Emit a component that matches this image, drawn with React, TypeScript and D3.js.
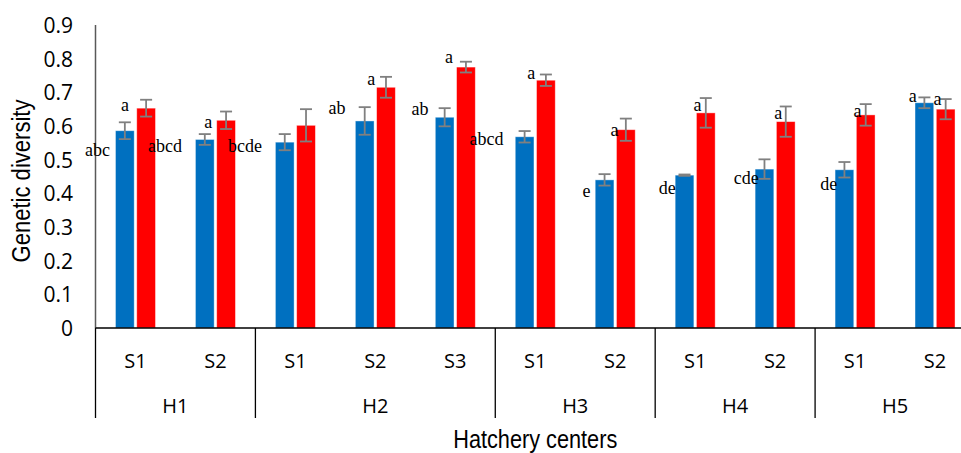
import React from "react";
import * as d3 from "d3";

const hatcheries = ["H1", "H2", "H3", "H4", "H5"];
const sitesPerHatchery = [2, 3, 2, 2, 2];
const categories = ["H1-S1", "H1-S2", "H2-S1", "H2-S2", "H2-S3", "H3-S1", "H3-S2", "H4-S1", "H4-S2", "H5-S1", "H5-S2"];
const siteLabels = ["S1", "S2", "S1", "S2", "S3", "S1", "S2", "S1", "S2", "S1", "S2"];
const series = ["blue", "red"];
const blueValues = [0.586, 0.56, 0.552, 0.615, 0.626, 0.568, 0.44, 0.454, 0.472, 0.47, 0.669];
const blueErrors = [0.025, 0.016, 0.024, 0.041, 0.027, 0.017, 0.017, 0.002, 0.029, 0.023, 0.016];
const redValues = [0.653, 0.617, 0.602, 0.715, 0.775, 0.736, 0.589, 0.639, 0.613, 0.633, 0.65];
const redErrors = [0.025, 0.026, 0.048, 0.031, 0.016, 0.017, 0.033, 0.044, 0.045, 0.032, 0.03];
const yTicks = [0, 0.1, 0.2, 0.3, 0.4, 0.5, 0.6, 0.7, 0.8, 0.9];

const letters = ["abc", "a", "abcd", "a", "bcde", "ab", "a", "ab", "a", "abcd", "a", "e", "a", "de", "a", "cde", "a", "de", "a", "a", "a"];
const letterCategory = [0, 0, 0, 1, 1, 3, 3, 4, 4, 4, 5, 6, 6, 7, 7, 8, 8, 9, 9, 10, 10];
const letterValue = [0.529, 0.662, 0.541, 0.612, 0.541, 0.653, 0.74, 0.65, 0.805, 0.561, 0.757, 0.407, 0.588, 0.416, 0.662, 0.446, 0.639, 0.428, 0.644, 0.689, 0.68];
// horizontal offset of each letter from its category centre, as a fraction of the category width
const letterOffset = [-0.475, -0.13, 0.37, -0.09, 0.37, -0.48, -0.05, -0.44, -0.08, 0.39, -0.05, -0.36, -0.01, -0.35, 0.03, -0.36, 0.04, -0.33, 0.03, -0.28, 0.03];

const W = 961;
const H = 453;
const left = 95.5;
const right = 975;
const top = 25;
const bottom = 328;

const colors: Record<string, string> = { blue: "#0070C0", red: "#FF0000" };
const sansTitle = "'Liberation Sans', Arial, sans-serif";
const sans = "'Open Sans', 'Liberation Sans', Arial, sans-serif";

export default function App() {
  const x = d3.scaleBand<string>().domain(categories).range([left, right]).paddingInner(0).paddingOuter(0);
  const bw = x.bandwidth();
  const x1 = d3.scaleBand<string>().domain(series).range([-20, 20]).paddingInner(0.12);
  const y = d3.scaleLinear().domain([0, 0.9]).range([bottom, top]);

  const center = (i: number) => (x(categories[i]) as number) + bw / 2;

  const boundaries: number[] = [0];
  sitesPerHatchery.forEach((n, i) => boundaries.push(boundaries[i] + n));

  const bars: any[] = [];
  categories.forEach((c, i) => {
    series.forEach((s) => {
      const v = s === "blue" ? blueValues[i] : redValues[i];
      const e = s === "blue" ? blueErrors[i] : redErrors[i];
      bars.push({ c, i, s, v, e });
    });
  });

  return (
    <svg width={W} height={H} style={{ position: "absolute", left: 0, top: 0, background: "#fff" }}>
      {/* y axis */}
      <line x1={left} x2={left} y1={y(0.9)} y2={bottom} stroke="#595959" strokeWidth={1.5} />
      {yTicks.map((t) => (
        <text key={t} x={73} y={y(t)} textAnchor="end" dominantBaseline="central" fontFamily={sans} fontSize={21} fill="#000">
          {d3.format("~g")(t)}
        </text>
      ))}
      <text
        transform={`translate(21, 181) rotate(-90)`}
        textAnchor="middle"
        dominantBaseline="central"
        fontFamily={sansTitle}
        fontSize={26}
        textLength={163}
        lengthAdjust="spacingAndGlyphs"
        fill="#000"
      >
        Genetic diversity
      </text>

      {/* bars */}
      {bars.map((b) => {
        const bx = center(b.i) + (x1(b.s) as number);
        const w = x1.bandwidth();
        const cx = bx + w / 2;
        return (
          <g key={b.c + b.s}>
            <rect x={bx} y={y(b.v)} width={w} height={bottom - y(b.v)} fill={colors[b.s]} stroke="#ffffff" strokeOpacity={0.5} strokeWidth={0.8} />
            <line x1={cx} x2={cx} y1={y(b.v + b.e)} y2={y(b.v - b.e)} stroke="#808080" strokeWidth={1.8} />
            <line x1={cx - 6} x2={cx + 6} y1={y(b.v + b.e)} y2={y(b.v + b.e)} stroke="#808080" strokeWidth={1.8} />
            <line x1={cx - 6} x2={cx + 6} y1={y(b.v - b.e)} y2={y(b.v - b.e)} stroke="#808080" strokeWidth={1.8} />
          </g>
        );
      })}

      {/* significance letters */}
      {letters.map((l, k) => (
        <text
          key={k}
          x={center(letterCategory[k]) + letterOffset[k] * bw}
          y={y(letterValue[k])}
          textAnchor="middle"
          dominantBaseline="central"
          fontFamily="'Liberation Serif', 'Times New Roman', serif"
          fontSize={18}
          fill="#000"
        >
          {l}
        </text>
      ))}

      {/* x axis */}
      <line x1={left} x2={W} y1={bottom} y2={bottom} stroke="#000" strokeWidth={1.5} />
      {boundaries.map((b, k) => {
        const bxp = b < categories.length ? (x(categories[b]) as number) : right;
        return <line key={k} x1={bxp} x2={bxp} y1={bottom} y2={418} stroke="#000" strokeWidth={1.3} />;
      })}
      {siteLabels.map((s, i) => (
        <text key={i} x={center(i)} y={360} textAnchor="middle" dominantBaseline="central" fontFamily={sans} fontSize={20} fill="#000">
          {s}
        </text>
      ))}
      {hatcheries.map((h, k) => {
        const a = x(categories[boundaries[k]]) as number;
        const endIdx = boundaries[k + 1];
        const bEnd = endIdx < categories.length ? (x(categories[endIdx]) as number) : right;
        return (
          <text key={h} x={(a + bEnd) / 2} y={405} textAnchor="middle" dominantBaseline="central" fontFamily={sans} fontSize={20} fill="#000">
            {h}
          </text>
        );
      })}
      <text
        x={(left + right) / 2}
        y={439}
        textAnchor="middle"
        dominantBaseline="central"
        fontFamily={sansTitle}
        fontSize={25}
        textLength={164}
        lengthAdjust="spacingAndGlyphs"
        fill="#000"
      >
        Hatchery centers
      </text>
    </svg>
  );
}
